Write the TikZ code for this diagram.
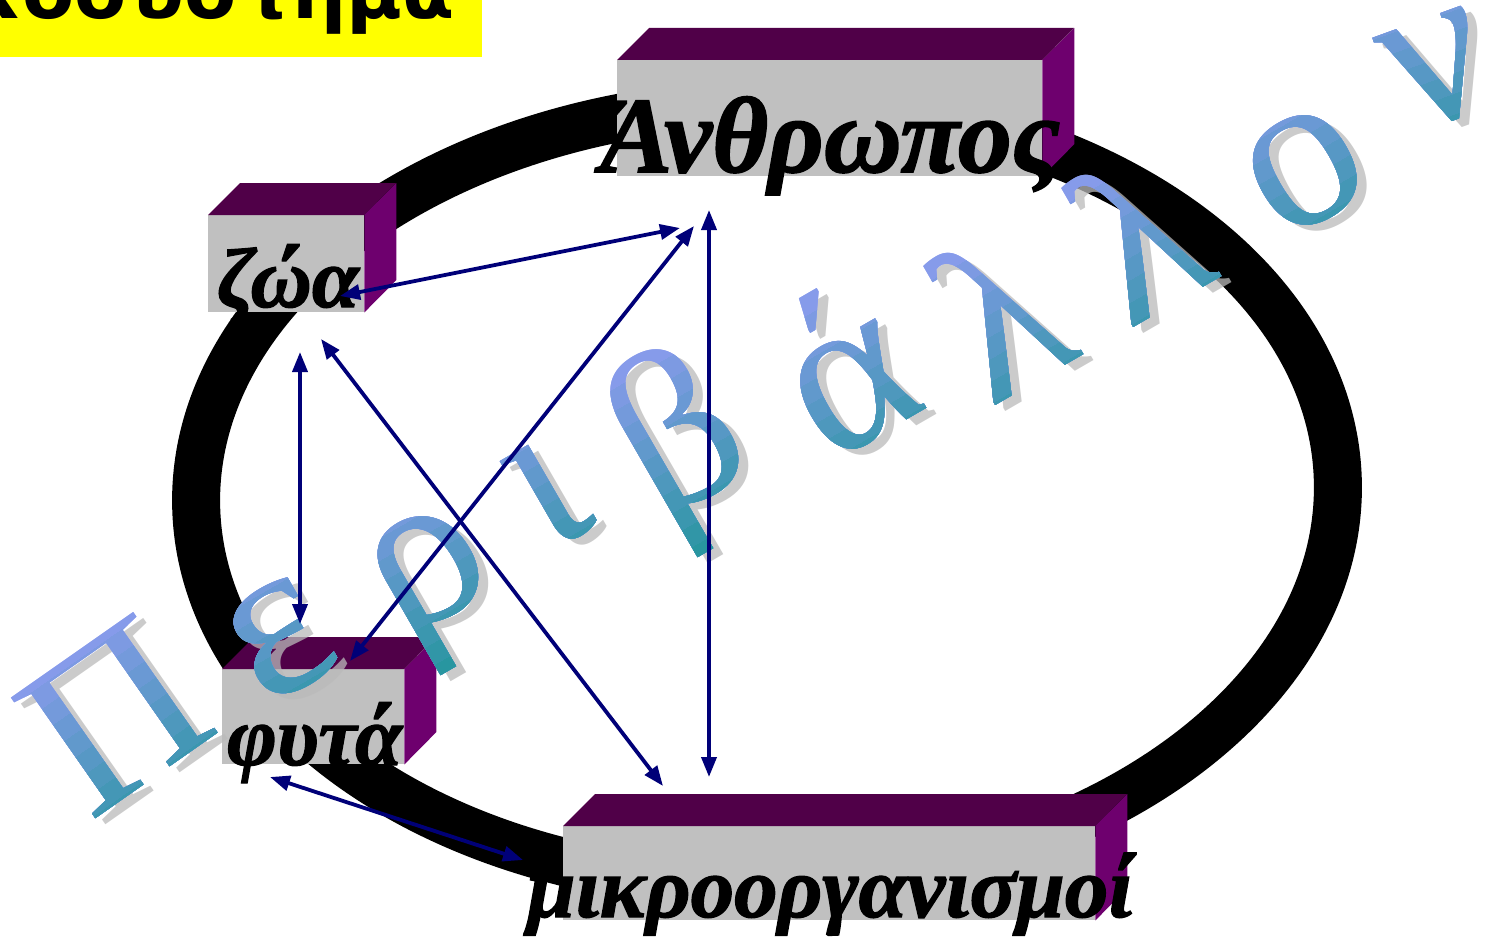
\documentclass[tikz,border=0pt]{standalone}
\usepackage{fontspec}
\setmainfont{Liberation Serif}
\newfontfamily\labelfont{Liberation Serif}[BoldItalicFeatures={FakeBold=1.5}]
\newfontfamily\titlefont{DejaVu Sans}
\usetikzlibrary{arrows.meta}
\definecolor{boxgrey}{RGB}{192,192,192}
\definecolor{boxtop}{RGB}{80,0,72}
\definecolor{boxside}{RGB}{110,0,110}
\definecolor{linknavy}{RGB}{0,0,120}
\definecolor{titleyellow}{RGB}{255,255,0}
\definecolor{wablue}{RGB}{145,155,242}
\definecolor{wateal}{RGB}{40,150,160}
\definecolor{washadow}{RGB}{186,186,186}

% one letter of the word-art: x, y (baseline), angle, glyph
\newcommand{\waletter}[4]{%
  \begin{scope}[shift={(#1+10,#2+6)}, rotate=#3, transform shape]
    \node[waglyph, text=washadow, opacity=0.75] at (0,0) {#4};
  \end{scope}
  \begin{scope}[shift={(#1,#2)}, rotate=#3, transform shape]
    \foreach \band in {0,...,11}{
      \pgfmathtruncatemacro\mixpct{100-\band*100/11}
      \colorlet{wafill}{wablue!\mixpct!wateal}
      \begin{scope}
        \clip (-300,{-180+\band*19.6}) rectangle (300,300);
        \node[waglyph, text=wafill] at (0,0) {#4};
      \end{scope}
    }
  \end{scope}}

\begin{document}
\begin{tikzpicture}[x=1pt, y=-1pt,
    boxfront/.style={fill=boxgrey, inner sep=0pt, anchor=north west},
    boxtext/.style={font=\labelfont\bfseries\itshape\fontsize{#1}{#1}\selectfont, inner sep=0pt, anchor=base west},
    link/.style={draw=linknavy, line width=3.8pt,
      {Triangle[length=20pt,width=15pt]}-{Triangle[length=20pt,width=15pt]}},
    waglyph/.style={font=\fontsize{225}{230}\selectfont, inner sep=0pt, anchor=base}]
  \useasboundingbox (0,0) rectangle (1487,939);
  \clip (0,0) rectangle (1487,939);

  % Title (cut at the top)
  \fill[titleyellow] (0,0) rectangle (482,57);
  \node[font=\titlefont\bfseries\fontsize{76}{80}\selectfont, anchor=base east, inner sep=0pt]
    (title) at (455,19) {Οικοσύστημα};

  % Ring
  \draw[line width=48pt, rotate around={1.25:(767,494)}]
    (767,494) ellipse [x radius=571pt, y radius=391pt];

  % Boxes: front face, then top and side
  \foreach \nm/\x/\y/\w/\h in {anthr/617/60/425/116, zoa/208/215/156/97,
                               fyta/222/669/182/95, mikro/563/826/532/94}{
    \node[boxfront, minimum width=\w pt, minimum height=\h pt] (\nm) at (\x,\y) {};
    \fill[boxtop] (\nm.north west) -- ++(32,-32) -- ++(\w,0) -- (\nm.north east) -- cycle;
    \fill[boxside] (\nm.north east) -- ++(32,-32) -- ++(0,\h) -- (\nm.south east) -- cycle;
  }

  % Labels
  \node[boxtext=108] (anthrtxt) at (600,172) {Άνθρωπος};
  \node[boxtext=85] (zoatxt) at (217,307) {ζώα};
  \node[boxtext=85] (fytatxt) at (227,765) {φυτά};
  \node[boxtext=87] (mikrotxt) at (527,917) {μικροοργανισμοί};

  % Word-art
  \waletter{157}{776}{35}{Π}
  \waletter{306}{685}{30}{ε}
  \waletter{453}{613}{30}{ρ}
  \waletter{574}{538}{30}{ι}
  \waletter{711}{495}{30}{β}
  \waletter{881}{435}{30}{ά}
  \waletter{1038}{381}{30}{λ}
  \waletter{1176}{303}{30}{λ}
  \waletter{1331}{215}{30}{ο}
  \waletter{1455}{118}{20}{ν}

  % Arrow ends
  \coordinate (zoaA) at (340,296);   \coordinate (anthrA) at (680,228);
  \coordinate (anthrB) at (694,226); \coordinate (fytaA) at (350,661);
  \coordinate (anthrC) at (709,210); \coordinate (mikroA) at (709,777);
  \coordinate (zoaB) at (300,352);   \coordinate (fytaB) at (300,624);
  \coordinate (zoaC) at (321,339);   \coordinate (mikroB) at (663,786);
  \coordinate (fytaC) at (270,777);  \coordinate (mikroC) at (523,860);

  % Arrows
  \draw[link] (zoaA) -- (anthrA);
  \draw[link] (anthrB) -- (fytaA);
  \draw[link] (anthrC) -- (mikroA);
  \draw[link] (zoaB) -- (fytaB);
  \draw[link] (zoaC) -- (mikroB);
  \draw[link] (fytaC) -- (mikroC);
\end{tikzpicture}
\end{document}
